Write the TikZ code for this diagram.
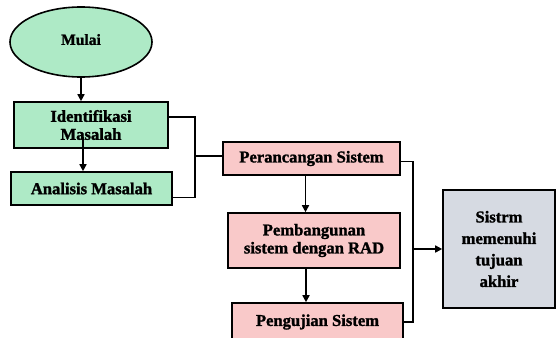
\documentclass[tikz,border=0pt]{standalone}
\usepackage{fontspec}
\setmainfont{Liberation Serif}[BoldFeatures={FakeBold=1.4}]
\usetikzlibrary{arrows.meta,shapes.geometric}
\definecolor{gfill}{HTML}{AEEAC6}
\definecolor{pfill}{HTML}{F9C9C9}
\definecolor{sfill}{HTML}{D6DAE2}
\begin{document}
\begin{tikzpicture}[x=1pt,y=-1pt,
  box/.style={draw=black, line width=1.6pt, inner sep=0pt, align=center,
    font=\bfseries\fontsize{16.6}{18}\selectfont},
  gbox/.style={box, fill=gfill},
  pbox/.style={box, fill=pfill},
  conn/.style={draw=black, line width=1.6pt},
  arr/.style={conn, -{Triangle[length=7pt,width=7pt]}}]
\useasboundingbox (0,0) rectangle (556,337);
\clip (0,0) rectangle (556,337);
\fill[white] (0,0) rectangle (556,337);

\node[gbox, ellipse, minimum width=142pt, minimum height=70pt,
  font=\bfseries\fontsize{15.5}{17}\selectfont] (mulai) at (81,42) {\raisebox{5pt}{Mulai}};
\node[gbox, minimum width=154pt, minimum height=46pt] (id) at (91,125) {Identifikasi\\Masalah};
\node[gbox, minimum width=161pt, minimum height=33pt] (an) at (91.5,188.5) {Analisis Masalah};
\node[pbox, minimum width=177pt, minimum height=33pt] (per) at (311.5,158.5) {Perancangan Sistem};
\node[pbox, minimum width=172pt, minimum height=55pt] (pem) at (314,240.5) {Pembangunan\\sistem dengan RAD};
\node[pbox, minimum width=171pt, minimum height=38pt] (pen) at (317.5,322) {Pengujian Sistem};
\node[box, fill=sfill, minimum width=112pt, minimum height=118pt,
  font=\bfseries\fontsize{16.6}{21.5}\selectfont] (sis) at (499,249) {Sistrm\\memenuhi\\tujuan\\akhir};

\coordinate (j1) at (195,156);
\coordinate (j2) at (413,249);

\draw[arr] (mulai.south) -- (mulai.south |- id.north);
\draw[arr] ([xshift=-8pt,yshift=12pt]id.south) -- ([xshift=-8pt]id.south |- an.north);
\draw[conn] ([yshift=8pt]id.east) -| (j1) |- ([yshift=-9pt]an.east);
\draw[conn] (j1) -- (j1 -| per.west);
\draw[arr] ([xshift=-6pt]per.south) -- ([xshift=-6pt]per.south |- pem.north);
\draw[arr] ([xshift=-8pt]pem.south) -- ([xshift=-8pt]pem.south |- pen.north);
\draw[conn] ([yshift=-3pt]per.east) -| (j2) |- (pen.east);
\draw[arr] (j2) -- (sis.west);
\end{tikzpicture}
\end{document}
